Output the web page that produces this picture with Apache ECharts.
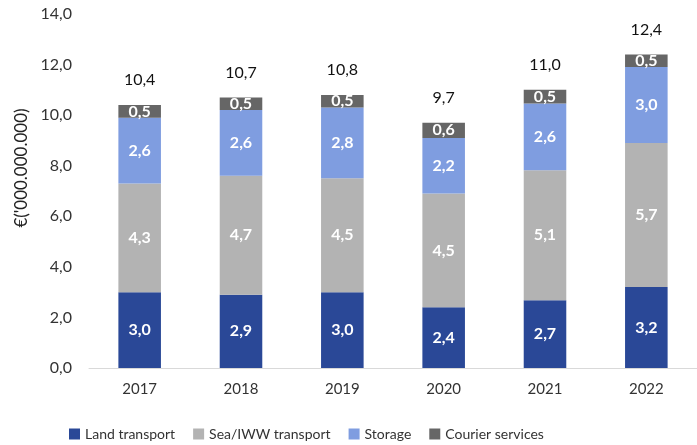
<!DOCTYPE html>
<html><head><meta charset="utf-8">
<script src="https://cdn.jsdelivr.net/npm/echarts@6/dist/echarts.min.js"></script>
<style>html,body{margin:0;padding:0;background:#fff}#c{width:697px;height:445px}</style>
</head><body><div id="c"></div>
<script>
var categories = ['2017','2018','2019','2020','2021','2022'];
var land = [3.0, 2.9, 3.0, 2.4, 2.68, 3.2];
var sea = [4.3, 4.7, 4.5, 4.5, 5.14, 5.7];
var storage = [2.6, 2.6, 2.8, 2.2, 2.64, 3.0];
var courier = [0.5, 0.5, 0.5, 0.6, 0.54, 0.5];
var totals = [10.4, 10.7, 10.8, 9.7, 11.0, 12.4];
var yTicks = [0, 2, 4, 6, 8, 10, 12, 14];

var FONT = 'Lato';
function fmt(v){ return Number(v).toFixed(1).replace('.', ','); }
function inner(name, data, color){
  return {
    name: name, type: 'bar', stack: 's', data: data, barWidth: '42%',
    itemStyle: {color: color},
    label: {show: true, position: 'inside', color: '#fff', fontWeight: 'bold', fontSize: 16, fontFamily: FONT,
      formatter: function(p){ return fmt(p.value); }}
  };
}
var totalData = totals.map(function(t){ return {value: 0, total: t}; });
var chart = echarts.init(document.getElementById('c'));
chart.setOption({
  animation: false,
  textStyle: {fontFamily: FONT},
  grid: {left: 89, top: 14, width: 619, height: 354, containLabel: false},
  legend: {
    left: 64, top: 422, itemWidth: 11, itemHeight: 11, itemGap: 18,
    icon: 'rect',
    textStyle: {fontSize: 14, color: '#333', fontFamily: FONT},
    data: ['Land transport', 'Sea/IWW transport', 'Storage', 'Courier services']
  },
  xAxis: {
    type: 'category', data: categories,
    axisLine: {lineStyle: {color: '#d9d9d9', width: 1}},
    axisTick: {show: false},
    axisLabel: {color: '#333', fontSize: 15, fontFamily: FONT, margin: 14}
  },
  yAxis: {
    type: 'value', min: 0, max: 14, interval: 2,
    name: "€('000.000.000)", nameLocation: 'middle', nameGap: 57, nameRotate: 90,
    nameTextStyle: {fontSize: 17, color: '#222', fontFamily: FONT, padding: [0, 0, 0, 46]},
    splitLine: {show: false},
    axisLine: {show: false}, axisTick: {show: false},
    axisLabel: {color: '#333', fontSize: 16, fontFamily: FONT, margin: 17,
      formatter: function(v){ return yTicks.indexOf(v) >= 0 ? fmt(v) : ''; }}
  },
  series: [
    inner('Land transport', land, '#2A4897'),
    inner('Sea/IWW transport', sea, '#B3B3B3'),
    inner('Storage', storage, '#7F9DE0'),
    inner('Courier services', courier, '#666666'),
    {
      name: 'Total', type: 'bar', stack: 's', data: totalData, barWidth: '42%',
      itemStyle: {color: 'transparent'}, legendHoverLink: false,
      label: {show: true, position: 'top', offset: [0, -12], color: '#111', fontSize: 16, fontFamily: FONT,
        formatter: function(p){ return fmt(p.data.total); }}
    }
  ]
});
</script></body></html>
